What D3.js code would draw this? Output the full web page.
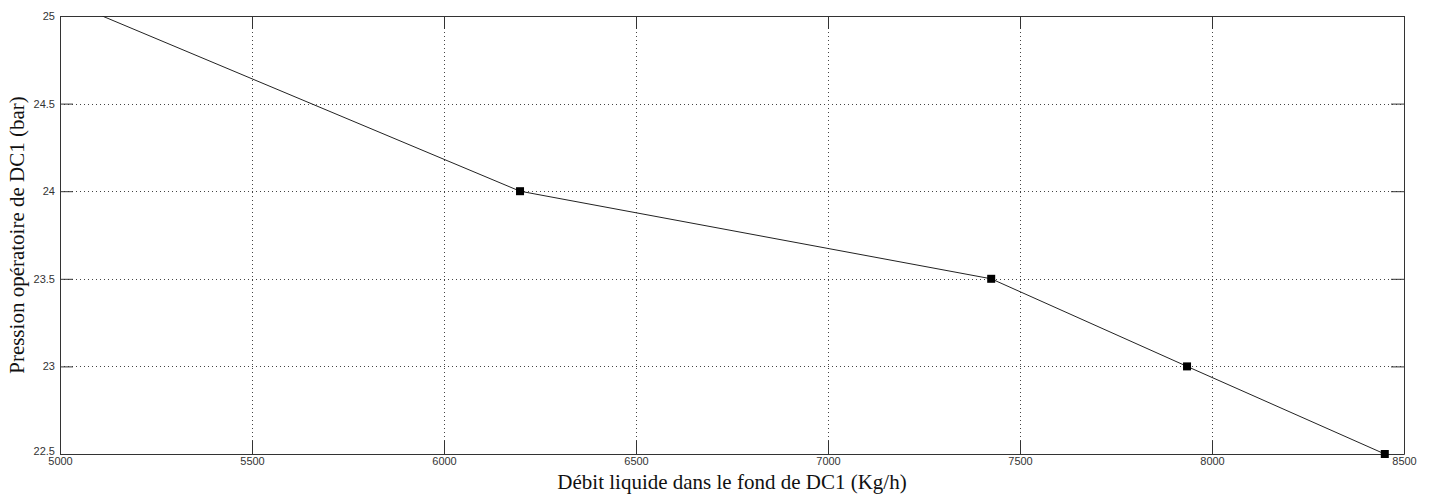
<!DOCTYPE html>
<html>
<head>
<meta charset="utf-8">
<script src="https://cdn.jsdelivr.net/npm/d3@7"></script>
<style>
  body { margin: 0; background: #fff; }
  .tick text { font-family: "Liberation Sans", Arial, sans-serif; font-size: 11px; fill: #333; }
  .lbl { font-family: "Liberation Serif", "Times New Roman", serif; font-size: 21px; fill: #111; }
</style>
</head>
<body>
<div id="chart"></div>
<script>
// débit (kg/h) vs pression (bar)
const debit = [5110, 6198, 7425, 7935, 8450];
const pression = [25, 24, 23.5, 23, 22.5];
const xTicks = [5000, 5500, 6000, 6500, 7000, 7500, 8000, 8500];
const yTicks = [22.5, 23, 23.5, 24, 24.5, 25];

const W = 1430, H = 495;
const margin = {top: 16, right: 26, bottom: 41, left: 60};
const width = W - margin.left - margin.right;
const height = H - margin.top - margin.bottom;

const data = debit.map((d, i) => ({x: d, y: pression[i]}));

const xScale = d3.scaleLinear().domain([5000, 8500]).range([0, width]);
const yScale = d3.scaleLinear().domain([22.5, 25]).range([height, 0]);

const svg = d3.select('#chart').append('svg')
    .attr('width', W)
    .attr('height', H);
const g = svg.append('g')
    .attr('transform', 'translate(' + margin.left + ',' + margin.top + ')');

// grid
g.append('g')
    .selectAll('line')
    .data(xTicks.slice(1, -1))
  .enter().append('line')
    .attr('x1', d => Math.round(xScale(d)) + 0.5)
    .attr('x2', d => Math.round(xScale(d)) + 0.5)
    .attr('y1', 0).attr('y2', height)
    .attr('stroke', '#444').attr('stroke-dasharray', '1,3');
g.append('g')
    .selectAll('line')
    .data(yTicks.slice(1, -1))
  .enter().append('line')
    .attr('y1', d => Math.round(yScale(d)) + 0.5)
    .attr('y2', d => Math.round(yScale(d)) + 0.5)
    .attr('x1', 0).attr('x2', width)
    .attr('stroke', '#444').attr('stroke-dasharray', '1,3');

// axes, ticks inward
const xAxis = d3.axisBottom(xScale).tickValues(xTicks).tickFormat(d3.format('d')).tickSizeInner(-13).tickSizeOuter(0).tickPadding(3);
const yAxis = d3.axisLeft(yScale).tickValues(yTicks).tickFormat(d => d).tickSizeInner(-13).tickSizeOuter(0).tickPadding(5);
const xAxisTop = d3.axisTop(xScale).tickValues(xTicks).tickFormat('').tickSizeInner(-13).tickSizeOuter(0);
const yAxisRight = d3.axisRight(yScale).tickValues(yTicks).tickFormat('').tickSizeInner(-13).tickSizeOuter(0);

g.append('g').attr('transform', 'translate(0,' + height + ')').call(xAxis);
const yG = g.append('g').call(yAxis);
// keep 22.5 from running into 5000
yG.selectAll('.tick text').filter(d => d === 22.5).attr('y', -3);
g.append('g').call(xAxisTop);
g.append('g').attr('transform', 'translate(' + width + ',0)').call(yAxisRight);
g.selectAll('.domain, .tick line').attr('stroke', '#333');

// line
const clip = g.append('clipPath').attr('id', 'clip')
  .append('rect').attr('width', width).attr('height', height);
const line = d3.line().x(d => xScale(d.x)).y(d => yScale(d.y));
g.append('path')
    .datum(data)
    .attr('clip-path', 'url(#clip)')
    .attr('fill', 'none')
    .attr('stroke', '#222')
    .attr('stroke-width', 1)
    .attr('d', line);

g.selectAll('.pt')
    .data(data.slice(1))
  .enter().append('rect')
    .attr('class', 'pt')
    .attr('x', d => xScale(d.x) - 4)
    .attr('y', d => yScale(d.y) - 4)
    .attr('width', 8).attr('height', 8)
    .attr('fill', '#000');

// labels
svg.append('text')
    .attr('class', 'lbl')
    .attr('x', margin.left + width / 2)
    .attr('y', 489)
    .attr('text-anchor', 'middle')
    .text('Débit liquide dans le fond de DC1 (Kg/h)');
svg.append('text')
    .attr('class', 'lbl')
    .attr('transform', 'translate(24,' + (margin.top + height / 2) + ') rotate(-90)')
    .attr('text-anchor', 'middle')
    .text('Pression opératoire de DC1 (bar)');
</script>
</body>
</html>
